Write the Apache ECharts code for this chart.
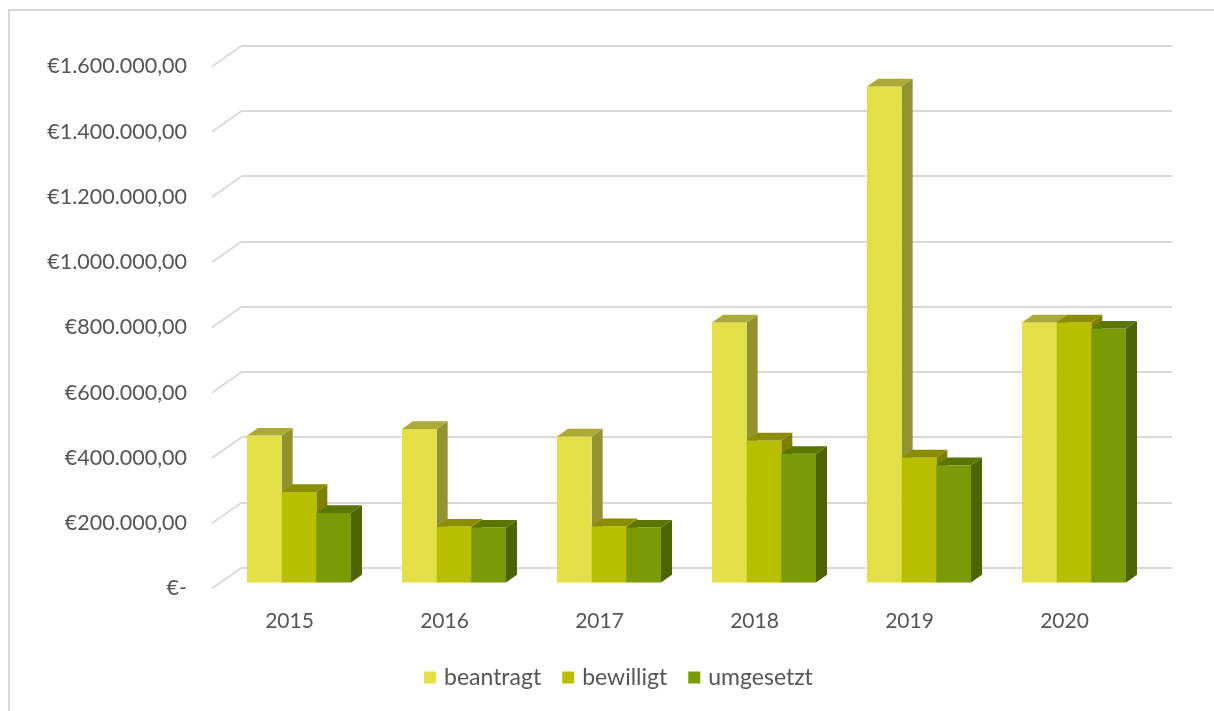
<!DOCTYPE html>
<html><head><meta charset="utf-8">
<script src="https://cdn.jsdelivr.net/npm/echarts@6/dist/echarts.min.js"></script>
<style>html,body{margin:0;padding:0;background:#fff}#c{width:1214px;height:711px}</style>
</head><body><div id="c"></div>
<script>
// ---- data ----
const categories = ['2015', '2016', '2017', '2018', '2019', '2020'];
const seriesNames = ['beantragt', 'bewilligt', 'umgesetzt'];
const beantragt = [450000, 470000, 447000, 797000, 1520000, 797000];
const bewilligt = [277000, 171000, 172000, 435000, 383000, 797000];
const umgesetzt = [213000, 168000, 168000, 394000, 359000, 778000];
const yTicks = [0, 200000, 400000, 600000, 800000, 1000000, 1200000, 1400000, 1600000];
const yTickLabels = ['€-', '€200.000,00', '€400.000,00', '€600.000,00', '€800.000,00',
  '€1.000.000,00', '€1.200.000,00', '€1.400.000,00', '€1.600.000,00'];

// ---- styles ----
const FONT = 'Lato';
const TXT = '#555555';
const GRID_C = '#d9d9d9';
const faces = [
  { front: '#E2E046', top: '#ACAA36', side: '#939230' },
  { front: '#B7BF00', top: '#8B8D00', side: '#7C7F00' },
  { front: '#7B9B06', top: '#5A7600', side: '#4E6400' }
];
const DX = 11, DY = -7.7;          // bar depth
const WX = 30, WY = -21;           // floor depth
const GROUP_RATIO = 0.671;
const seriesValues = [beantragt, bewilligt, umgesetzt];

const yAxisBase = { type: 'value', min: 0, max: 1600000, interval: 200000 };

function barRenderer(idx) {
  const f = faces[idx];
  return function (params, api) {
    const ci = api.value(0), v = api.value(1);
    const base = api.coord([ci, 0]);
    const top = api.coord([ci, v]);
    const band = api.size([1, 0])[0];
    const gw = band * GROUP_RATIO;
    const bw = gw / 3;
    const xL = base[0] - gw / 2 + idx * bw, xR = xL + bw;
    const yT = top[1], yB = base[1];
    return {
      type: 'group', children: [
        { type: 'polygon', shape: { points: [[xR, yT], [xR + DX, yT + DY], [xR + DX, yB + DY], [xR, yB]] }, style: { fill: f.side } },
        { type: 'rect', shape: { x: xL, y: yT, width: bw, height: yB - yT }, style: { fill: f.front } },
        { type: 'polygon', shape: { points: [[xL, yT], [xR, yT], [xR + DX, yT + DY], [xL + DX, yT + DY]] }, style: { fill: f.top } }
      ]
    };
  };
}

const series = [
  {
    type: 'custom', name: '_diag', xAxisIndex: 1, yAxisIndex: 1, silent: true,
    data: yTicks.map(v => [0, v]),
    renderItem: function (params, api) {
      const p = api.coord([0, api.value(1)]);
      const x = params.coordSys.x;
      return { type: 'line', shape: { x1: x, y1: p[1], x2: x + WX, y2: p[1] + WY }, style: { stroke: GRID_C, lineWidth: 2 } };
    }
  }
];
seriesNames.forEach((n, i) => {
  series.push({
    type: 'custom', name: n, xAxisIndex: 2, yAxisIndex: 2,
    itemStyle: { color: faces[i].front },
    data: seriesValues[i].map((v, k) => [k, v]),
    encode: { x: 0, y: 1 },
    renderItem: barRenderer(i)
  });
});

const chart = echarts.init(document.getElementById('c'));
chart.setOption({
  animation: false,
  backgroundColor: '#fff',
  textStyle: { fontFamily: FONT },
  graphic: [{ type: 'rect', shape: { x: 9, y: 10, width: 1300, height: 800 }, style: { fill: null, stroke: GRID_C, lineWidth: 2 }, silent: true }],
  grid: [
    { left: 242, top: 45.5, width: 930, height: 522 },   // back wall
    { left: 212, top: 66.5, width: 930, height: 522 },   // front plane
    { left: 221.5, top: 60.4, width: 930, height: 522 }  // bar plane
  ],
  xAxis: [
    { gridIndex: 0, type: 'category', data: categories, show: false },
    { gridIndex: 1, type: 'category', data: categories, axisLine: { show: false }, axisTick: { show: false },
      axisLabel: { color: TXT, fontSize: 21, fontFamily: FONT, margin: 22 } },
    { gridIndex: 2, type: 'category', data: categories, show: false }
  ],
  yAxis: [
    Object.assign({ gridIndex: 0, axisLabel: { show: false }, axisLine: { show: false }, axisTick: { show: false },
      splitLine: { show: true, lineStyle: { color: GRID_C, width: 2 } } }, yAxisBase),
    Object.assign({ gridIndex: 1, axisLine: { show: false }, axisTick: { show: false }, splitLine: { show: false },
      axisLabel: { color: TXT, fontSize: 21.5, fontFamily: FONT, margin: 25,
        formatter: v => yTickLabels[Math.round(v / 200000)] } }, yAxisBase),
    Object.assign({ gridIndex: 2, show: false, splitLine: { show: false } }, yAxisBase)
  ],
  legend: {
    data: seriesNames, bottom: 17, left: 419, icon: 'rect', itemWidth: 12, itemHeight: 12, itemGap: 21,
    textStyle: { color: TXT, fontSize: 23, fontFamily: FONT, padding: [0, 0, 0, 3] }
  },
  series: series
});
</script></body></html>
